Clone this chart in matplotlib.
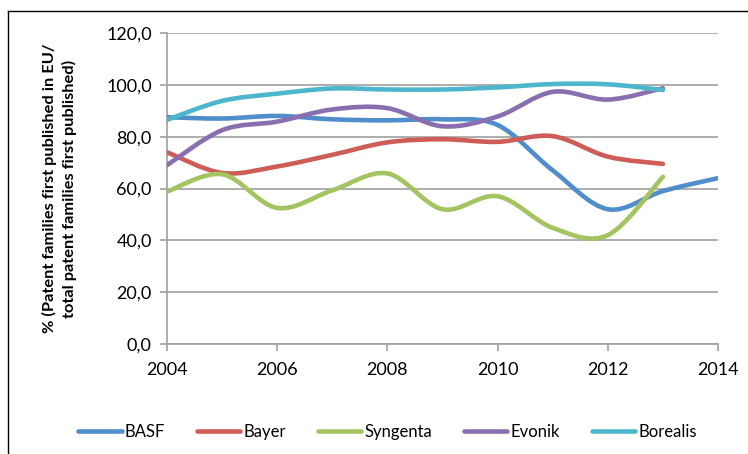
import numpy as np
import matplotlib
matplotlib.use("Agg")
import matplotlib.pyplot as plt
from matplotlib.path import Path
from matplotlib.patches import PathPatch
from matplotlib.lines import Line2D

plt.rcParams['font.family'] = ['Lato', 'DejaVu Sans']

years_basf = [2004, 2005, 2006, 2007, 2008, 2009, 2010, 2011, 2012, 2013, 2014]
years = [2004, 2005, 2006, 2007, 2008, 2009, 2010, 2011, 2012, 2013]
basf = [87.5, 87.0, 88.0, 86.7, 86.3, 86.7, 84.5, 67.0, 52.0, 59.0, 64.0]
bayer = [74.0, 66.0, 68.5, 73.0, 77.8, 79.0, 78.0, 80.2, 72.3, 69.5]
syngenta = [58.8, 65.5, 52.5, 59.3, 65.8, 52.0, 57.0, 44.8, 42.0, 64.5]
evonik = [69.0, 82.5, 85.8, 90.5, 91.0, 84.0, 87.8, 97.3, 94.3, 98.7]
borealis = [86.5, 93.8, 96.6, 98.6, 98.2, 98.2, 99.0, 100.3, 100.2, 98.0]

names = ['BASF', 'Bayer', 'Syngenta', 'Evonik', 'Borealis']
colors = ['#4F8DCB', '#CF5D57', '#A3C460', '#8A6FB0', '#4DB6CD']
series = [(years_basf, basf), (years, bayer), (years, syngenta), (years, evonik), (years, borealis)]

yticks = [0, 20, 40, 60, 80, 100, 120]
xticks = [2004, 2006, 2008, 2010, 2012, 2014]


def smooth_path(xs, ys):
    p = np.column_stack([xs, ys]).astype(float)
    n = len(p)
    verts = [p[0]]
    codes = [Path.MOVETO]
    for i in range(n - 1):
        p0 = p[i - 1] if i > 0 else p[i]
        p1 = p[i]
        p2 = p[i + 1]
        p3 = p[i + 2] if i + 2 < n else p[i + 1]
        c1 = p1 + (p2 - p0) / 6.0
        c2 = p2 - (p3 - p1) / 6.0
        verts += [c1, c2, p2]
        codes += [Path.CURVE4] * 3
    return Path(verts, codes)


fig = plt.figure(figsize=(7.48, 4.54), dpi=100)
ax = fig.add_axes([167 / 748, 1 - 344 / 454, (718 - 167) / 748, (344 - 33) / 454])

grid_c = '#A0A0A0'
for (xs, ys), c, nm in zip(series, colors, names):
    patch = PathPatch(smooth_path(xs, ys), facecolor='none', edgecolor=c, lw=3.3,
                      capstyle='round', joinstyle='round', zorder=3)
    ax.add_patch(patch)

ax.set_xlim(2004, 2014)
ax.set_ylim(0, 120)
ax.set_xticks(xticks)
ax.set_yticks(yticks)
ax.set_yticklabels([f"{v:.1f}".replace('.', ',') for v in yticks])
ax.yaxis.grid(True, color=grid_c, lw=1.2)
ax.set_axisbelow(True)
for s in ['top', 'right']:
    ax.spines[s].set_visible(False)
for s in ['left', 'bottom']:
    ax.spines[s].set_color(grid_c)
    ax.spines[s].set_linewidth(1.2)
ax.tick_params(axis='both', colors=grid_c, length=5, width=1.2, labelsize=13,
               labelcolor='black', direction='out')
ax.tick_params(axis='x', pad=8)
ax.tick_params(axis='y', pad=6)

ax.set_ylabel('% (Patent families first published in EU/\ntotal patent families first published)',
              fontsize=11.8, fontweight='bold', linespacing=1.4)
ax.yaxis.set_label_coords(-0.163, 0.5)

handles = [Line2D([0], [0], color=c, lw=3.3, solid_capstyle='round') for c in colors]
fig.legend(handles, names, loc='center', bbox_to_anchor=(0.518, 1 - 432 / 454), ncol=5,
           frameon=False, fontsize=12, handlelength=2.6, handletextpad=0.2, columnspacing=1.9)

# outer border (left and top)
fig.add_artist(Line2D([8 / 748, 8 / 748], [0, 1 - 11 / 454], color='black', lw=1.0,
                      transform=fig.transFigure))
fig.add_artist(Line2D([8 / 748, 1], [1 - 11 / 454, 1 - 11 / 454], color='black', lw=1.0,
                      transform=fig.transFigure))

fig.savefig('out.png', dpi=100)
